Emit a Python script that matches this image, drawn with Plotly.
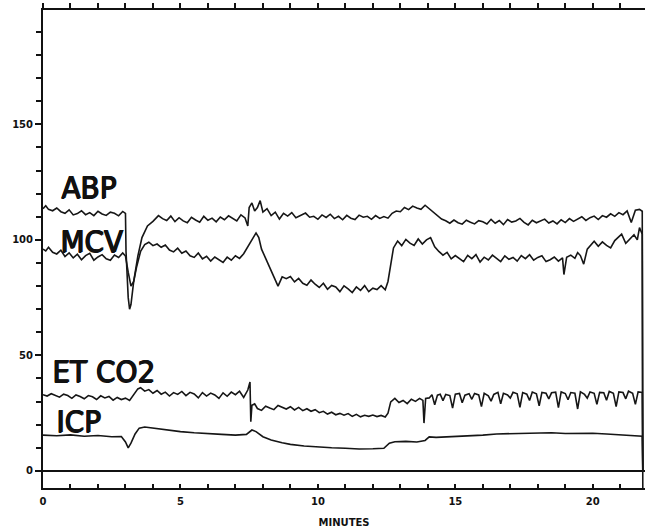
import plotly.graph_objects as go

# ---------------- data ----------------
abp_t = [0.0,0.1,0.2,0.35,0.5,0.65,0.8,0.95,1.1,1.25,1.4,1.55,1.7,1.85,2.0,2.15,2.3,2.45,2.6,2.75,2.9,3.0,3.02,
         3.1,3.15,3.2,3.3,3.45,3.6,3.8,4.0,4.2,4.35,4.5,4.65,4.8,4.95,5.1,5.25,5.4,5.55,5.7,5.85,6.0,6.15,6.3,
         6.45,6.6,6.75,6.9,7.05,7.2,7.35,7.45,7.5,7.6,7.7,7.8,7.9,8.0,8.15,8.3,8.45,8.6,8.75,8.9,9.05,9.2,9.4,
         9.55,9.7,9.85,10.0,10.15,10.3,10.45,10.6,10.75,10.9,11.05,11.2,11.35,11.5,11.65,11.8,11.95,12.1,12.25,
         12.4,12.55,12.7,12.85,13.0,13.15,13.3,13.45,13.6,13.75,13.9,14.05,14.2,14.35,14.5,14.65,14.8,14.95,
         15.1,15.25,15.4,15.55,15.7,15.85,16.0,16.15,16.3,16.45,16.6,16.75,16.9,17.05,17.2,17.35,17.5,17.65,
         17.8,17.95,18.1,18.25,18.4,18.55,18.7,18.85,19.0,19.15,19.3,19.45,19.6,19.75,19.9,20.05,20.2,20.35,
         20.5,20.65,20.8,20.95,21.1,21.25,21.4,21.55,21.7,21.8,21.82]
abp_v = [113.5,114.8,113.2,112.6,113.8,112.2,111.5,113,110.8,111.4,112.6,110.9,111.8,110.5,112.4,111.2,110.6,112,111.5,110.4,112.3,111.5,95,
         75,70,72,82,93,101,106,108,110.5,109.2,108.4,110.3,107.9,109.6,108.2,107.4,109.8,108.6,107.6,110.2,108.5,109.4,107.8,
         109.9,108.7,110.4,109.1,108.2,110.8,109.5,106,114,116,112.5,114,117,112,113.5,110.5,112,109,111.5,110.3,111.8,109.6,110.6,
         111.6,109.8,110.2,108.9,110.8,109.7,111.1,109.2,110.2,108.7,110.6,109.4,108.8,110.7,109.8,110.2,108.9,110.5,109.3,
         110.1,109.4,111.5,112.5,112.2,114,113.1,114.6,113.8,113.2,115,113.5,112,110.5,109,108.3,107.2,108.6,
         107.4,106.8,108.5,107.6,106.9,108.3,107.8,106.9,108.9,107.2,108.4,106.6,108.8,107.7,108.2,109.3,107.6,106.5,
         108.5,107.4,108.1,109,107.3,108.2,106.9,108.7,107.5,109.2,108,109.1,110,108.4,109.6,110.3,108.8,110.5,
         109.8,111.3,110.2,111.8,110.9,112.5,107.5,112.8,113.2,112.4,-7.4]

mcv_t = [0.0,0.1,0.2,0.35,0.5,0.65,0.8,0.95,1.1,1.25,1.4,1.55,1.7,1.85,2.0,2.15,2.3,2.45,2.6,2.75,2.9,3.0,
         3.1,3.2,3.3,3.4,3.55,3.7,3.85,4.0,4.15,4.3,4.45,4.6,4.75,4.9,5.05,5.2,5.35,5.5,5.65,5.8,5.95,6.1,6.25,
         6.4,6.55,6.7,6.85,7.0,7.15,7.3,7.45,7.6,7.75,7.85,7.95,8.1,8.25,8.4,8.55,8.7,8.85,9.0,9.15,9.3,9.45,
         9.6,9.75,9.9,10.05,10.2,10.35,10.5,10.65,10.8,10.95,11.1,11.25,11.4,11.55,11.7,11.85,12.0,12.15,12.3,
         12.45,12.55,12.65,12.75,12.9,13.05,13.2,13.35,13.5,13.65,13.8,13.95,14.1,14.25,14.4,14.55,14.7,14.85,
         15.0,15.15,15.3,15.45,15.6,15.75,15.9,16.05,16.2,16.35,16.5,16.65,16.8,16.95,17.1,17.25,17.4,17.55,
         17.7,17.85,18.0,18.15,18.3,18.45,18.6,18.75,18.9,18.95,19.05,19.2,19.35,19.45,19.55,19.67,19.8,19.95,
         20.05,20.2,20.35,20.5,20.65,20.8,20.95,21.05,21.2,21.35,21.5,21.62,21.7,21.8,21.82]
mcv_v = [96,95.2,96.8,94.6,93.9,95.5,92.8,94.4,92.2,93.8,91.4,93.2,94.2,91.2,92.6,93.6,91.8,91.2,93.4,92.4,94.3,93,
         86,80,82,88,95,98,99,97.5,98.2,96.8,97.8,95.6,94.8,96.4,94.2,95.2,93.1,92.4,94.3,91.8,92.9,90.8,92.6,
         91.4,90.2,92.5,91.2,93.1,92,94,97,100,103,101,96,92,88,84.5,80,84,83.2,84.1,81.8,83.3,81.2,
         80.4,82.6,80.8,79.4,81.2,78.6,80.3,79.6,77.6,80.1,78.8,77.2,79.6,78.1,80.2,77.6,79.1,78.5,80.2,
         78.4,82,90,96.5,99.5,97.5,100.2,98.6,97.6,100.4,98.2,100,101,97,95,93.4,94.6,91.8,
         93.2,91.8,90.6,93.3,91.9,93.6,90.4,92.5,91.3,93.4,92,90.6,93.1,91.6,92.4,90.8,93.2,91.9,
         93.6,91.2,92.4,93.1,90.6,91.4,92.6,90.8,92.2,85,92.5,93.4,92,94.5,93.2,89.5,96,98.2,
         99.4,97.2,99.1,97.6,96.5,99.7,101.2,102.5,98.5,100.6,102.2,100,105.3,102.5,0]

etco2_t = [0.0,0.15,0.3,0.45,0.6,0.75,0.9,1.05,1.2,1.35,1.5,1.65,1.8,1.95,2.1,2.25,2.4,2.55,2.7,2.85,3.0,3.15,
           3.3,3.45,3.55,3.7,3.85,4.0,4.15,4.3,4.45,4.6,4.75,4.9,5.05,5.2,5.35,5.5,5.65,5.8,5.95,6.1,6.25,6.4,
           6.55,6.7,6.85,7.0,7.15,7.3,7.45,7.53,7.56,7.6,7.7,7.8,7.95,8.1,8.25,8.4,8.55,8.7,8.85,9.0,9.15,9.3,
           9.45,9.6,9.75,9.9,10.05,10.2,10.35,10.5,10.65,10.8,10.95,11.1,11.25,11.4,11.55,11.7,11.85,12.0,12.15,
           12.3,12.45,12.55,12.65,12.8,12.95,13.1,13.25,13.4,13.55,13.7,13.82,13.86,13.92,14.05,14.15,14.25,
           14.35,14.45,14.55,14.65,14.8,14.9,15.0,15.15,15.25,15.35,15.5,15.6,15.7,15.85,15.95,16.05,16.2,16.3,
           16.4,16.55,16.65,16.75,16.9,17.0,17.1,17.25,17.35,17.45,17.6,17.7,17.8,17.95,18.05,18.15,18.3,18.4,
           18.5,18.65,18.75,18.85,19.0,19.1,19.2,19.35,19.45,19.55,19.7,19.8,19.9,20.05,20.15,20.25,20.4,20.5,
           20.6,20.75,20.85,20.95,21.1,21.2,21.3,21.45,21.55,21.65,21.8,21.82]
etco2_v = [33,32.4,33.4,32.8,31.9,33.2,32.6,31.4,32.9,32.2,31.2,32.6,32.1,30.9,32.5,31.6,32.2,30.6,31.8,30.9,31.5,30.5,
           33,35.5,36,34.5,35.2,33.6,34.8,33.2,34.1,32.4,33.9,33.1,34.4,32.6,34,33.3,31.6,33.9,32.4,33.7,32.9,31.4,
           33.8,32.3,34.1,33,34.5,31.8,35,38.5,21.3,28.4,29,27,26.2,28,27.2,26.5,28.3,27.5,26.8,27.8,26.4,27.5,
           26.1,26.9,25.8,26.5,25.2,25.8,24.6,25.4,24.3,24.9,24.1,24.8,23.6,24.5,23.4,24.1,23.6,24.2,23.5,
           24,23.3,25,29.9,31.4,29.6,30.5,29.1,31,30.1,31.4,30.5,20.7,31.4,31.6,33,28.6,
           32.8,33.2,30.4,33.1,32.6,27.2,33.2,33.5,29.5,32.8,33.4,31,33.5,32.9,27.8,33.6,32.5,30.2,
           33.1,34,29,33.6,32.9,31.5,34,33.4,27.5,33.9,33.2,30.5,34.1,33.4,28.2,34,33.6,31.2,
           33.8,34.1,27.4,34.2,33.5,30.8,33.9,33.6,26.8,34.2,33.1,31.5,34.2,33.6,28.8,34,33.8,30.6,
           34.4,33.6,27.8,34.2,33.9,31.2,34.5,33.6,28.8,34.2,34,0]

icp_t = [0.0,0.5,1.0,1.5,2.0,2.5,2.85,3.0,3.1,3.2,3.35,3.5,3.7,3.9,4.2,4.6,5.0,5.5,6.0,6.5,7.0,7.4,7.6,7.75,
         8.0,8.3,8.7,9.0,9.5,10.0,10.5,11.0,11.5,12.0,12.4,12.6,12.8,13.2,13.6,13.9,14.05,14.3,15.0,15.5,16.0,
         16.5,17.0,17.5,18.0,18.5,19.0,19.5,20.0,20.5,21.0,21.5,21.8,21.82]
icp_v = [15.5,15.2,15.6,15.0,15.3,14.8,14.9,12.5,10.0,12.0,16.0,18.5,19.0,18.7,18.0,17.5,17.0,16.5,16.3,15.8,15.5,
         15.8,17.7,17.0,14.8,13.4,12.2,11.5,10.8,10.3,10.0,9.8,9.5,9.6,9.8,12.0,12.6,12.8,12.5,13.2,14.7,14.5,
         14.8,15.2,15.5,16.0,16.2,16.4,16.3,16.5,16.2,16.4,16.3,16.0,15.5,15.2,15.0,0]

series = [("ABP", abp_t, abp_v), ("MCV", mcv_t, mcv_v), ("ET CO2", etco2_t, etco2_v), ("ICP", icp_t, icp_v)]

# label anchor positions (minutes, value)
label_names = ["ABP", "MCV", "ET CO2", "ICP"]
label_x = [1.64, 1.78, 2.2, 1.28]
label_y = [123, 99.4, 43.3, 21.8]

x_ticks = [0, 5, 10, 15, 20]
y_ticks = [0, 50, 100, 150]

X_RANGE = [0, 21.9]
Y_RANGE = [-7.4, 199.5]

# ---------------- figure ----------------
fig = go.Figure()
for name, t, v in series:
    fig.add_trace(go.Scatter(x=t, y=v, mode="lines", name=name,
                             line=dict(color="#161616", width=1.6), showlegend=False,
                             hoverinfo="skip"))

label_font = dict(family="DejaVu Sans Condensed, sans-serif",
                  size=31, color="#111111", weight="normal",
                  shadow="1.2px 0px 0px #111111, 0.6px 0px 0px #111111, 0px 0.6px 0px #111111")
for n, lx, ly in zip(label_names, label_x, label_y):
    fig.add_annotation(x=lx, y=ly, xref="x", yref="y", text=n, showarrow=False,
                       xanchor="center", yanchor="middle", font=label_font)

tick_font = dict(family="DejaVu Sans, sans-serif", size=10, color="#111111", weight="bold")

fig.update_layout(
    width=645, height=529,
    margin=dict(l=43, r=0, t=10, b=41),
    paper_bgcolor="white", plot_bgcolor="white",
    xaxis=dict(range=X_RANGE, tickvals=x_ticks, ticktext=[str(v) for v in x_ticks],
               ticks="inside", ticklen=4, tickwidth=1.5, tickcolor="#111",
               minor=dict(dtick=1, ticks="inside", ticklen=4, tickwidth=1.5, tickcolor="#111"),
               showline=True, linecolor="#111", linewidth=2, showgrid=False, zeroline=False,
               tickfont=tick_font, ticklabelstandoff=3,
               title=dict(text="MINUTES", font=dict(family="DejaVu Sans, sans-serif", size=10,
                                                     color="#111", weight="bold"), standoff=13)),
    xaxis2=dict(range=X_RANGE, overlaying="x", side="top", anchor="y", dtick=1, tick0=0,
                ticks="outside", ticklen=5, tickwidth=1.5, tickcolor="#111",
                showticklabels=False, showline=True, linecolor="#111", linewidth=2,
                showgrid=False, zeroline=False),
    yaxis=dict(range=Y_RANGE, tickvals=y_ticks, ticktext=[str(v) for v in y_ticks],
               ticks="outside", ticklen=6, tickwidth=1.5, tickcolor="#111",
               minor=dict(dtick=10, ticks="outside", ticklen=5, tickwidth=1.5, tickcolor="#111"),
               showline=True, linecolor="#111", linewidth=2, showgrid=False,
               zeroline=True, zerolinecolor="#111", zerolinewidth=1.5,
               tickfont=tick_font),
)
# invisible helper trace so the top axis is drawn
fig.add_trace(go.Scatter(x=X_RANGE, y=[None, None], xaxis="x2", mode="lines",
                         showlegend=False, hoverinfo="skip"))

fig.write_html("out.html")
